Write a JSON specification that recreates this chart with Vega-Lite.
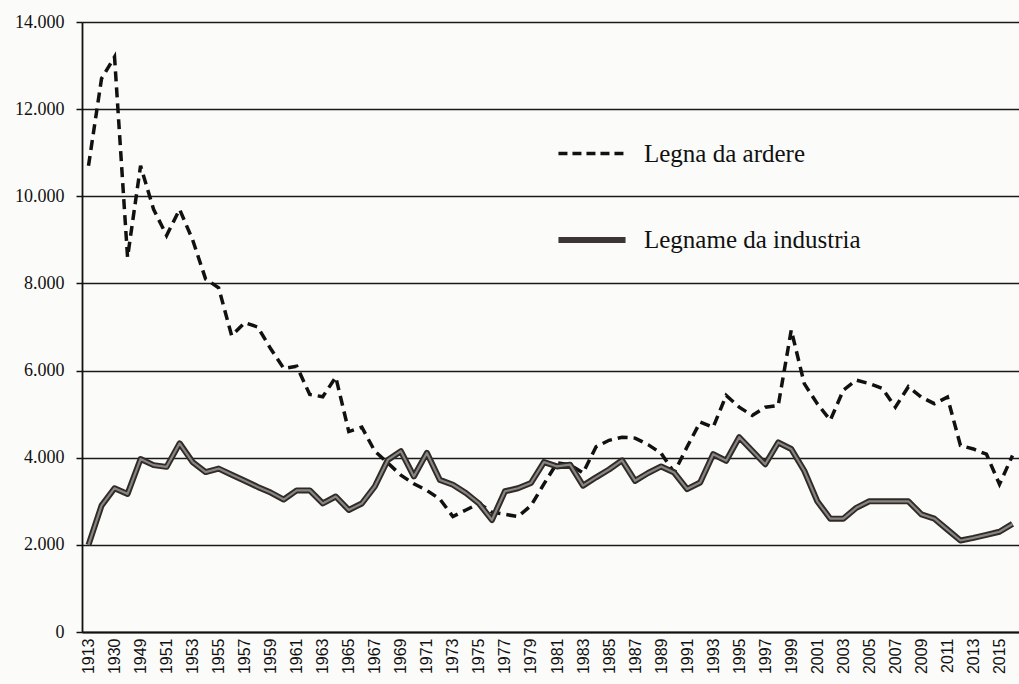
{
  "$schema": "https://vega.github.io/schema/vega-lite/v6.json",
  "width": 937,
  "height": 610,
  "autosize": {"type": "none"},
  "padding": {"left": 82, "top": 22, "right": 0, "bottom": 52},
  "background": "#fbfbf9",
  "datasets": {
    "ardere": [
      {"year": "1913", "value": 10700}, {"year": "1920", "value": 12700}, {"year": "1930", "value": 13200}, {"year": "1940", "value": 8600},
      {"year": "1949", "value": 10700}, {"year": "1950", "value": 9700}, {"year": "1951", "value": 9100}, {"year": "1952", "value": 9700},
      {"year": "1953", "value": 9000}, {"year": "1954", "value": 8100}, {"year": "1955", "value": 7900}, {"year": "1956", "value": 6800},
      {"year": "1957", "value": 7100}, {"year": "1958", "value": 7000}, {"year": "1959", "value": 6500}, {"year": "1960", "value": 6050},
      {"year": "1961", "value": 6100}, {"year": "1962", "value": 5450}, {"year": "1963", "value": 5400}, {"year": "1964", "value": 5850},
      {"year": "1965", "value": 4600}, {"year": "1966", "value": 4700}, {"year": "1967", "value": 4150}, {"year": "1968", "value": 3880},
      {"year": "1969", "value": 3600}, {"year": "1970", "value": 3400}, {"year": "1971", "value": 3250}, {"year": "1972", "value": 3050},
      {"year": "1973", "value": 2650}, {"year": "1974", "value": 2800}, {"year": "1975", "value": 2950}, {"year": "1976", "value": 2750},
      {"year": "1977", "value": 2700}, {"year": "1978", "value": 2650}, {"year": "1979", "value": 2900}, {"year": "1980", "value": 3400},
      {"year": "1981", "value": 3880}, {"year": "1982", "value": 3840}, {"year": "1983", "value": 3650}, {"year": "1984", "value": 4250},
      {"year": "1985", "value": 4400}, {"year": "1986", "value": 4470}, {"year": "1987", "value": 4450}, {"year": "1988", "value": 4300},
      {"year": "1989", "value": 4100}, {"year": "1990", "value": 3660}, {"year": "1991", "value": 4250}, {"year": "1992", "value": 4820},
      {"year": "1993", "value": 4700}, {"year": "1994", "value": 5430}, {"year": "1995", "value": 5160}, {"year": "1996", "value": 4970},
      {"year": "1997", "value": 5160}, {"year": "1998", "value": 5200}, {"year": "1999", "value": 6930}, {"year": "2000", "value": 5700},
      {"year": "2001", "value": 5240}, {"year": "2002", "value": 4860}, {"year": "2003", "value": 5550}, {"year": "2004", "value": 5780},
      {"year": "2005", "value": 5700}, {"year": "2006", "value": 5590}, {"year": "2007", "value": 5160}, {"year": "2008", "value": 5630},
      {"year": "2009", "value": 5390}, {"year": "2010", "value": 5240}, {"year": "2011", "value": 5390}, {"year": "2012", "value": 4280},
      {"year": "2013", "value": 4200}, {"year": "2014", "value": 4080}, {"year": "2015", "value": 3390}, {"year": "2016", "value": 4050}
    ],
    "industria": [
      {"year": "1913", "value": 2000}, {"year": "1920", "value": 2900}, {"year": "1930", "value": 3300}, {"year": "1940", "value": 3170},
      {"year": "1949", "value": 3970}, {"year": "1950", "value": 3830}, {"year": "1951", "value": 3790}, {"year": "1952", "value": 4330},
      {"year": "1953", "value": 3900}, {"year": "1954", "value": 3670}, {"year": "1955", "value": 3750}, {"year": "1956", "value": 3610},
      {"year": "1957", "value": 3470}, {"year": "1958", "value": 3330}, {"year": "1959", "value": 3200}, {"year": "1960", "value": 3040},
      {"year": "1961", "value": 3250}, {"year": "1962", "value": 3250}, {"year": "1963", "value": 2950}, {"year": "1964", "value": 3110},
      {"year": "1965", "value": 2800}, {"year": "1966", "value": 2950}, {"year": "1967", "value": 3340}, {"year": "1968", "value": 3950},
      {"year": "1969", "value": 4150}, {"year": "1970", "value": 3570}, {"year": "1971", "value": 4110}, {"year": "1972", "value": 3490},
      {"year": "1973", "value": 3380}, {"year": "1974", "value": 3190}, {"year": "1975", "value": 2950}, {"year": "1976", "value": 2570},
      {"year": "1977", "value": 3230}, {"year": "1978", "value": 3300}, {"year": "1979", "value": 3420}, {"year": "1980", "value": 3900},
      {"year": "1981", "value": 3800}, {"year": "1982", "value": 3840}, {"year": "1983", "value": 3360}, {"year": "1984", "value": 3550},
      {"year": "1985", "value": 3730}, {"year": "1986", "value": 3940}, {"year": "1987", "value": 3470}, {"year": "1988", "value": 3650},
      {"year": "1989", "value": 3800}, {"year": "1990", "value": 3660}, {"year": "1991", "value": 3280}, {"year": "1992", "value": 3430},
      {"year": "1993", "value": 4080}, {"year": "1994", "value": 3930}, {"year": "1995", "value": 4470}, {"year": "1996", "value": 4160},
      {"year": "1997", "value": 3850}, {"year": "1998", "value": 4350}, {"year": "1999", "value": 4200}, {"year": "2000", "value": 3700},
      {"year": "2001", "value": 3000}, {"year": "2002", "value": 2600}, {"year": "2003", "value": 2600}, {"year": "2004", "value": 2850},
      {"year": "2005", "value": 3000}, {"year": "2006", "value": 3000}, {"year": "2007", "value": 3000}, {"year": "2008", "value": 3000},
      {"year": "2009", "value": 2700}, {"year": "2010", "value": 2600}, {"year": "2011", "value": 2350}, {"year": "2012", "value": 2100},
      {"year": "2013", "value": 2160}, {"year": "2014", "value": 2230}, {"year": "2015", "value": 2300}, {"year": "2016", "value": 2480}
    ]
  },
  "layer": [
    {
      "data": {"name": "ardere"},
      "mark": {"type": "line", "color": "#111111", "strokeWidth": 3.5, "strokeDash": [10, 6], "strokeJoin": "miter"},
      "encoding": {
        "x": {
          "field": "year", "type": "ordinal", "sort": null,
          "axis": {
            "title": null,
            "values": ["1913", "1930", "1949", "1951", "1953", "1955", "1957", "1959", "1961", "1963", "1965", "1967", "1969", "1971", "1973", "1975", "1977", "1979", "1981", "1983", "1985", "1987", "1989", "1991", "1993", "1995", "1997", "1999", "2001", "2003", "2005", "2007", "2009", "2011", "2013", "2015"],
            "labelAngle": 270,
            "labelFont": "Liberation Sans",
            "labelFontSize": 16,
            "labelColor": "#111111",
            "labelPadding": 6,
            "ticks": false,
            "domainColor": "#111111",
            "domainWidth": 2,
            "grid": false,
            "labelOverlap": false
          }
        },
        "y": {
          "field": "value", "type": "quantitative",
          "scale": {"domain": [0, 14000]},
          "axis": {
            "title": null,
            "values": [0, 2000, 4000, 6000, 8000, 10000, 12000, 14000],
            "labelExpr": "replace(format(datum.value, ','), ',', '.')",
            "labelFont": "Liberation Serif",
            "labelFontSize": 18,
            "labelColor": "#111111",
            "labelPadding": 12,
            "tickSize": 6,
            "tickColor": "#111111",
            "tickWidth": 1.5,
            "domainColor": "#111111",
            "domainWidth": 1.8,
            "grid": true,
            "gridColor": "#1a1a1a",
            "gridWidth": 1.4,
            "gridOpacity": 1
          }
        }
      }
    },
    {
      "data": {"name": "industria"},
      "mark": {"type": "line", "color": "#2e2b29", "strokeWidth": 6, "strokeJoin": "round"},
      "encoding": {
        "x": {"field": "year", "type": "ordinal", "sort": null},
        "y": {"field": "value", "type": "quantitative"}
      }
    },
    {
      "data": {"name": "industria"},
      "mark": {"type": "line", "color": "#8a8580", "strokeWidth": 2.2, "strokeJoin": "round"},
      "encoding": {
        "x": {"field": "year", "type": "ordinal", "sort": null},
        "y": {"field": "value", "type": "quantitative"}
      }
    },
    {
      "data": {"values": [{"serie": "Legna da ardere"}, {"serie": "Legname da industria"}]},
      "mark": {"type": "line", "opacity": 0},
      "encoding": {
        "color": {"field": "serie", "type": "nominal", "scale": {"domain": ["Legna da ardere", "Legname da industria"], "range": ["#111111", "#3a3633"]}, "legend": {"title": null}},
        "strokeDash": {"field": "serie", "type": "nominal", "scale": {"domain": ["Legna da ardere", "Legname da industria"], "range": [[9, 5], [1, 0]]}, "legend": {"title": null}},
        "strokeWidth": {"field": "serie", "type": "nominal", "scale": {"domain": ["Legna da ardere", "Legname da industria"], "range": [3.5, 6]}, "legend": {"title": null}}
      }
    }
  ],
  "config": {
    "view": {"stroke": null},
    "scale": {"pointPadding": 0.5},
    "legend": {
      "orient": "none",
      "legendX": 473,
      "legendY": 96,
      "padding": 0,
      "offset": 0,
      "labelFont": "Liberation Serif",
      "labelFontSize": 25,
      "labelColor": "#111111",
      "labelOffset": 15,
      "symbolType": "stroke",
      "symbolSize": 4500,
      "symbolOpacity": 1,
      "rowPadding": 36,
      "labelLimit": 400
    }
  }
}
